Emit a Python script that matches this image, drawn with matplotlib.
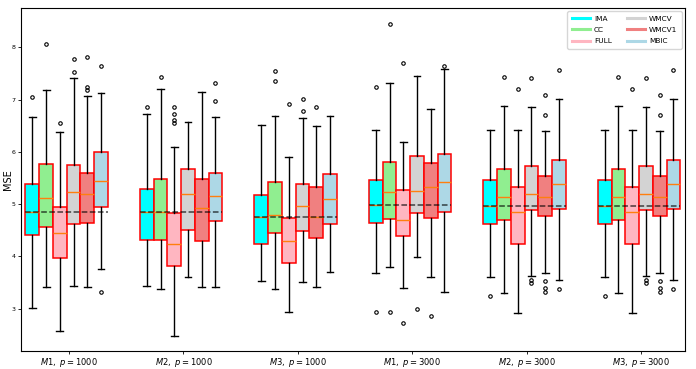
import matplotlib
matplotlib.use("Agg")
import matplotlib.pyplot as plt
from matplotlib.lines import Line2D

methods = ["IMA", "CC", "FULL", "WMCV", "WMCV1", "MBIC"]
colors = ["cyan", "lightgreen", "lightpink", "lightgray", "lightcoral", "lightblue"]
groups = [r"$M1,\ p=1000$", r"$M2,\ p=1000$", r"$M3,\ p=1000$",
          r"$M1,\ p=3000$", r"$M2,\ p=3000$", r"$M3,\ p=3000$"]

# per group, per method: [whislo, q1, med, q3, whishi]
stats_g1 = [[3.02, 4.40, 4.85, 5.38, 6.67], [3.41, 4.57, 5.11, 5.77, 7.18],
            [2.58, 3.96, 4.44, 4.95, 6.37], [3.43, 4.62, 5.24, 5.75, 7.42],
            [3.41, 4.63, 5.19, 5.60, 7.06], [3.76, 4.95, 5.44, 6.00, 7.12]]
fliers_g1 = [[7.04], [8.06], [6.55], [7.53, 7.78], [7.18, 7.24, 7.81], [7.65, 3.31]]

stats_g2 = [[3.43, 4.31, 4.84, 5.28, 6.72], [3.38, 4.32, 4.85, 5.48, 7.20],
            [2.47, 3.81, 4.24, 4.82, 6.10], [3.61, 4.50, 5.19, 5.68, 6.57],
            [3.41, 4.29, 4.92, 5.48, 7.15], [3.41, 4.67, 5.15, 5.59, 6.67]]
fliers_g2 = [[6.85], [7.43], [6.56, 6.61, 6.72, 6.85], [], [], [6.98, 7.32]]

stats_g3 = [[3.52, 4.23, 4.76, 5.18, 6.52], [3.37, 4.45, 4.80, 5.43, 6.69],
            [2.94, 3.88, 4.29, 4.74, 5.91], [3.50, 4.49, 4.96, 5.39, 6.64],
            [3.42, 4.35, 4.76, 5.32, 6.50], [3.70, 4.62, 5.10, 5.57, 6.69]]
fliers_g3 = [[], [7.36, 7.55], [6.92], [6.79, 7.01], [6.85], []]

stats_g4 = [[3.68, 4.63, 4.99, 5.46, 6.42], [3.79, 4.71, 5.24, 5.81, 7.32],
            [3.39, 4.39, 4.69, 5.27, 6.19], [3.99, 4.82, 5.25, 5.92, 7.45],
            [3.61, 4.73, 5.32, 5.79, 6.81], [3.31, 4.84, 5.42, 5.95, 7.58]]
fliers_g4 = [[7.25, 2.94], [8.44, 2.93], [7.70, 2.73], [2.99], [2.86], [7.65]]

stats_g5 = [[3.60, 4.62, 4.97, 5.47, 6.42], [3.29, 4.69, 5.13, 5.68, 6.87],
            [2.91, 4.23, 4.85, 5.33, 6.42], [3.62, 4.89, 5.20, 5.73, 6.85],
            [3.68, 4.78, 5.13, 5.54, 6.40], [3.55, 4.90, 5.38, 5.85, 7.02]]
fliers_g5 = [[3.24], [7.43], [7.20], [3.54, 3.49, 7.41], [3.52, 3.40, 3.31, 6.70, 7.09],
             [3.38, 7.57]]

stats_g6 = stats_g5
fliers_g6 = fliers_g5

all_stats = [stats_g1, stats_g2, stats_g3, stats_g4, stats_g5, stats_g6]
all_fliers = [fliers_g1, fliers_g2, fliers_g3, fliers_g4, fliers_g5, fliers_g6]

fig = plt.figure(figsize=(6.96, 3.69), dpi=100)
ax = fig.add_axes([0.030, 0.049, 0.954, 0.929])

width = 0.12
offsets = [-0.3, -0.18, -0.06, 0.06, 0.18, 0.3]

for g in range(len(groups)):
    center = g + 1
    for m in range(len(methods)):
        lo, q1, med, q3, hi = all_stats[g][m]
        st = {"whislo": lo, "q1": q1, "med": med, "q3": q3, "whishi": hi,
              "fliers": all_fliers[g][m]}
        ax.bxp([st], positions=[center + offsets[m]], widths=width,
               patch_artist=True, showfliers=True,
               boxprops=dict(facecolor=colors[m], edgecolor="red", linewidth=1.1),
               whiskerprops=dict(color="black", linewidth=1.0),
               capprops=dict(color="black", linewidth=1.0),
               medianprops=dict(color="C1", linewidth=1.0),
               flierprops=dict(marker="o", markersize=2.5, markerfacecolor="none",
                               markeredgecolor="black", markeredgewidth=0.8))
    # dashed reference line at the IMA median
    ima_med = all_stats[g][0][2]
    ax.hlines(ima_med, center + offsets[0] - width / 2, center + offsets[-1] + width / 2,
              colors="black", linestyles="--", linewidth=1.1, alpha=0.7, zorder=5)

ax.set_xlim(0.6, 6.4)
ax.set_ylim(2.19, 8.75)
ax.set_xticks([g + 1.02 for g in range(len(groups))])
ax.set_xticklabels(groups, fontsize=6)
ax.set_yticks([3, 4, 5, 6, 7, 8])
ax.tick_params(axis="y", labelsize=4.5, length=2, width=0.6, pad=2)
ax.tick_params(axis="x", length=2, width=0.6, pad=2)
ax.set_ylabel("MSE", fontsize=7)
ax.yaxis.set_label_coords(-0.012, 0.5)

handles = [Line2D([0], [0], color=c, linewidth=2.2) for c in colors]
leg = ax.legend(handles, methods, ncol=2, loc="upper right", fontsize=5.3,
                handlelength=2.5, handletextpad=0.55, columnspacing=2.0,
                labelspacing=0.7, borderpad=0.6, borderaxespad=0.4, frameon=True)

fig.savefig("out.png", dpi=100)
